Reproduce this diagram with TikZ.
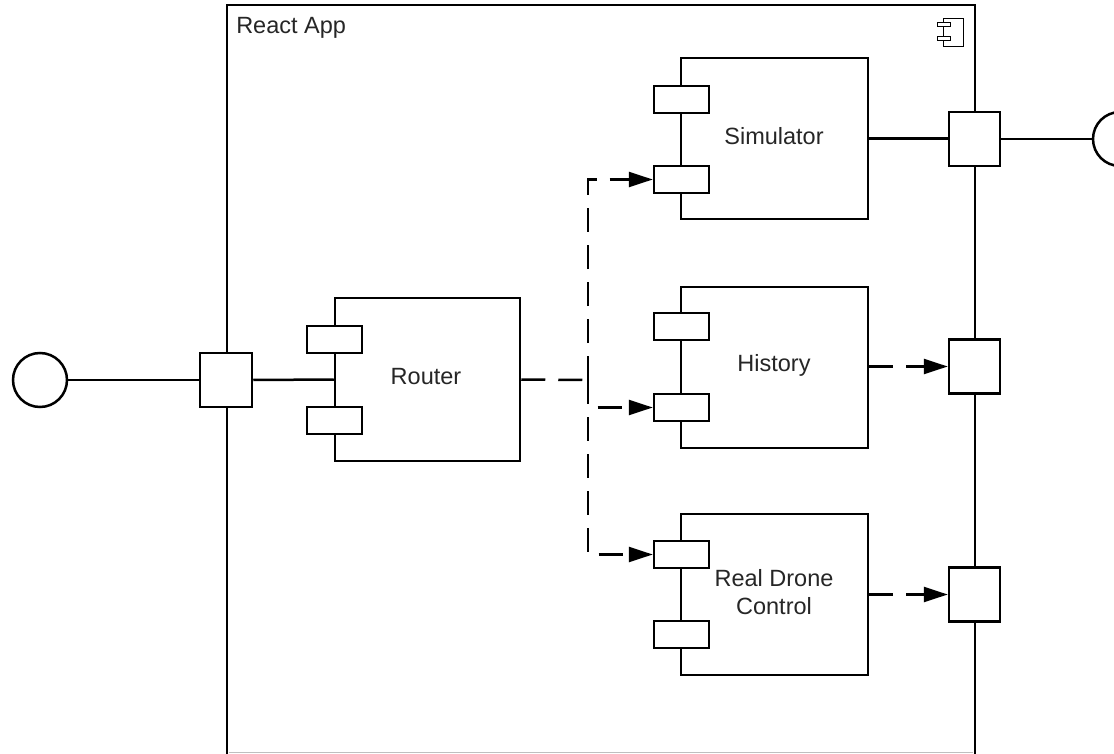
\documentclass[tikz,border=0pt]{standalone}
\usepackage{fontspec}
\setmainfont{Liberation Sans}
\usetikzlibrary{arrows.meta}
\begin{document}
\begin{tikzpicture}[x=1pt,y=-1pt,
  line width=2.5pt,
  txt/.style={font=\fontsize{23.5}{28}\selectfont, inner sep=0pt, align=center, text=black!85},
  body/.style={draw, fill=white, minimum width=187pt, minimum height=161pt, inner sep=0pt},
  subr/.style={draw, fill=white, minimum width=55pt, minimum height=27pt, inner sep=0pt},
  port/.style={draw, fill=white, minimum width=51pt, minimum height=54pt, inner sep=0pt},
  iface/.style={draw, fill=white, circle, minimum size=54pt, inner sep=0pt},
  dline/.style={dash pattern=on 24pt off 13pt},
  darrow/.style={dline, -{Triangle[length=24pt,width=15pt]}}]
\useasboundingbox (0,0) rectangle (1114,754);
\clip (0,0) rectangle (1114,754);
% frame
\draw (227,5) rectangle (975,755);
\draw[line width=1pt, black!25] (229,752.5) -- (973,752.5);
\node[txt, anchor=base west] (title) at (235,34) {React App};
% icon
\draw[line width=1pt] (943,19) rectangle (963,47);
\draw[line width=1pt, fill=white] (937,23) rectangle (950,27);
\draw[line width=1pt, fill=white] (937,37) rectangle (950,41);
% components
\node[body, minimum width=185pt, minimum height=163pt] (router) at (427.5,379.5) {};
\node[subr] (rs1) at (334.5,339.5) {};
\node[subr] (rs2) at (334.5,420.5) {};
\node[txt] (routert) at (426,377) {Router};

\node[body] (sim) at (774.5,138.5) {};
\node[subr] (ss1) at (681.5,99.5) {};
\node[subr] (ss2) at (681.5,179.5) {};
\node[txt] (simt) at (774,136) {Simulator};

\node[body] (hist) at (774.5,367.5) {};
\node[subr] (hs1) at (681.5,326.5) {};
\node[subr] (hs2) at (681.5,407.5) {};
\node[txt] (histt) at (774,365) {History};

\node[body] (rdc) at (774.5,594.5) {};
\node[subr] (ds1) at (681.5,554.5) {};
\node[subr] (ds2) at (681.5,634.5) {};
\node[txt] (rdct) at (774,592) {Real Drone\\Control};

% ports
\node[port, minimum width=52pt] (lp) at (226,380) {};
\node[port] (rp1) at (974.5,139) {};
\node[port] (rp2) at (974.5,366.5) {};
\node[port] (rp3) at (974.5,594.5) {};
% interfaces
\node[iface] (lc) at (40,380) {};
\node[iface] (rc) at (1120,139) {};
% solid connectors
\draw (lc.east) -- (lp.west);
\draw (lp.east) -- (router.west);
\draw (sim.east) -- (sim.east -| rp1.west);
\draw (rp1.east) -- (rc.west);
% dashed connectors
\coordinate (j) at (588,380);
\draw[dline] (router.east) -- (j);
\draw[darrow] (j) |- (ss2.west);
\draw[darrow] (j) |- (hs2.west);
\draw[darrow] (j) |- (ds1.west);
\draw[darrow] (hist.east |- rp2.west) -- (rp2.west);
\draw[darrow] (rdc.east |- rp3.west) -- (rp3.west);
\end{tikzpicture}
\end{document}
